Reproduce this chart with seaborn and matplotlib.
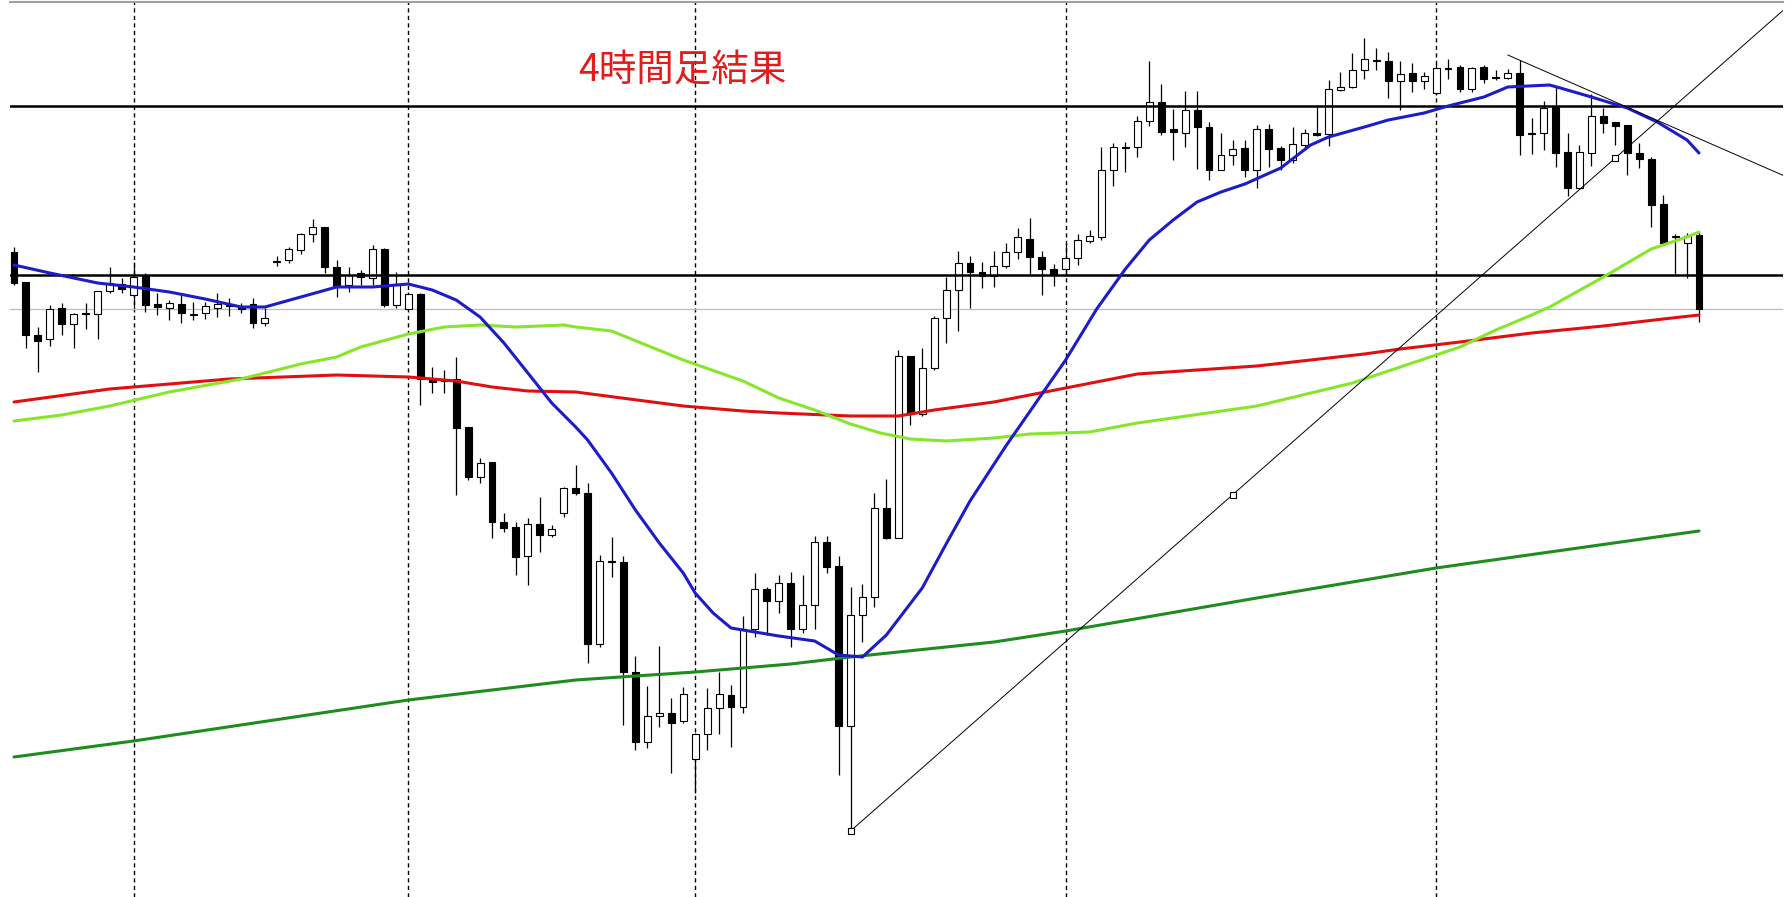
import numpy as np
import matplotlib
matplotlib.use("Agg")
import matplotlib.pyplot as plt
import seaborn as sns

# 4H candles, values (no price scale is shown, so values are
# measured downward from the top of the chart window: smaller = higher price)
candle_open = [252, 282, 335, 339, 308, 324, 313, 314, 291, 284,
               295, 276, 304, 308, 304, 314, 313, 308, 305, 308,
               304, 323, 261, 260, 250, 234, 227, 267, 285, 273,
               278, 249, 305, 309, 294, 379, 380, 379, 427, 477,
               462, 522, 527, 556, 524, 535, 513, 488, 493, 644,
               561, 562, 672, 742, 716, 713, 721, 759, 734, 708,
               695, 707, 629, 589, 601, 583, 629, 605, 542, 566,
               726, 615, 597, 508, 538, 356, 414, 368, 318, 290,
               263, 272, 276, 266, 252, 239, 257, 269, 269, 258,
               241, 237, 170, 147, 147, 121, 102, 129, 133, 110,
               127, 170, 155, 148, 170, 129, 148, 160, 145, 133,
               134, 90, 87, 70, 60, 61, 81, 73, 81, 93,
               68, 67, 89, 67, 77, 78, 73, 133, 133, 107,
               152, 188, 153, 116, 122, 125, 153, 159, 204, 236,
               243, 235]
candle_close = [283, 335, 341, 309, 324, 314, 313, 291, 283, 289,
                277, 305, 307, 303, 313, 314, 306, 304, 305, 308,
                323, 318, 261, 249, 234, 227, 267, 286, 275, 277,
                249, 305, 285, 294, 379, 382, 380, 428, 477, 463,
                522, 528, 557, 524, 535, 529, 488, 493, 644, 561,
                561, 672, 742, 716, 713, 723, 694, 734, 708, 694,
                707, 629, 589, 601, 583, 629, 605, 542, 567, 726,
                615, 597, 508, 538, 356, 414, 368, 318, 290, 263,
                272, 276, 266, 252, 237, 257, 269, 275, 258, 240,
                236, 170, 147, 147, 121, 102, 132, 132, 110, 127,
                170, 155, 149, 170, 129, 149, 160, 144, 133, 135,
                89, 87, 70, 59, 60, 81, 74, 81, 76, 68,
                68, 89, 68, 79, 78, 73, 135, 134, 108, 153,
                188, 152, 116, 123, 126, 153, 159, 205, 243, 236,
                236, 309]
candle_high = [247, 282, 327, 305, 303, 313, 303, 291, 267, 278,
               262, 273, 293, 300, 295, 302, 302, 293, 298, 303,
               298, 308, 256, 247, 233, 219, 227, 260, 267, 270,
               245, 248, 272, 292, 293, 367, 370, 357, 427, 458,
               462, 513, 522, 518, 497, 525, 487, 465, 483, 555,
               537, 556, 656, 686, 646, 698, 687, 733, 688, 672,
               685, 616, 573, 587, 575, 572, 575, 536, 536, 556,
               587, 584, 493, 479, 350, 356, 348, 316, 277, 251,
               256, 262, 251, 243, 228, 218, 251, 264, 243, 234,
               230, 147, 143, 142, 116, 61, 84, 109, 91, 91,
               122, 133, 140, 140, 125, 124, 146, 127, 129, 107,
               80, 72, 53, 38, 48, 52, 61, 63, 72, 63,
               59, 65, 67, 65, 70, 69, 60, 118, 101, 87,
               133, 145, 94, 108, 122, 125, 143, 157, 195, 234,
               233, 232]
candle_low = [285, 348, 372, 346, 335, 348, 329, 339, 293, 293,
              308, 312, 315, 320, 323, 320, 319, 317, 316, 313,
              328, 326, 266, 263, 254, 242, 273, 297, 292, 285,
              285, 307, 308, 309, 405, 393, 393, 495, 480, 483,
              538, 532, 575, 585, 552, 537, 517, 495, 663, 647,
              577, 725, 750, 748, 727, 773, 723, 793, 750, 734,
              747, 713, 637, 635, 613, 647, 633, 629, 573, 775,
              831, 642, 607, 539, 538, 425, 416, 370, 343, 331,
              308, 288, 287, 268, 259, 275, 295, 286, 275, 265,
              243, 240, 186, 172, 157, 126, 135, 160, 147, 169,
              180, 170, 165, 177, 188, 167, 170, 163, 150, 136,
              146, 91, 88, 79, 70, 98, 110, 92, 89, 95,
              79, 92, 92, 83, 80, 79, 155, 154, 150, 167,
              196, 189, 166, 133, 145, 175, 168, 227, 243, 275,
              278, 322]

# moving averages, sampled at bar positions
ma_blue_x = [0, 3, 7, 10, 13, 16, 19, 21, 24, 27, 30, 33, 35, 37, 39, 41, 43, 45, 47, 48,
             50, 52, 54, 56, 57, 58.5, 60, 62, 64, 67, 69, 71, 73, 76, 78, 80, 83, 88, 90.6, 93,
             95, 97, 99, 101, 103, 106, 108.5, 110, 113, 115, 118, 120, 123, 125, 128.5, 129.4,
             132, 135, 137.5, 140, 141]
ma_blue_y = [265, 273, 283, 287, 292, 299, 307, 307, 297, 287, 287, 284, 290, 300, 317, 343, 373, 403, 427, 440,
             473, 510, 543, 573, 593, 613, 628, 632, 636, 641, 655, 657, 635, 588, 544, 501, 446, 360, 309, 269,
             240, 220, 202, 192, 184, 168, 145, 137, 127, 120, 113, 106, 97, 87, 85, 88,
             97, 108, 122, 140, 153]

ma_lime_x = [0, 4, 8, 13, 19, 24, 27, 29, 33, 36, 39, 42, 46, 47, 50, 56, 61, 64, 67, 70,
             72.5, 75, 78, 82, 85, 90, 94, 104, 112, 121, 124, 127, 128.5, 133, 137, 140, 141]
ma_lime_y = [421, 415, 406, 392, 379, 364, 357, 347, 334, 327, 325, 327, 325, 327, 331, 360, 381, 398, 410, 424,
             433, 439, 441, 438, 434, 432, 423, 406, 383, 347, 330, 315, 307, 277, 249, 237, 232]

ma_red_x = [0, 8, 18, 27, 33, 37, 40, 43, 47, 56, 61, 64, 70, 74, 77, 82, 85, 94, 104, 113,
            116, 121, 127, 133, 138, 141]
ma_red_y = [402, 389, 379, 375, 377, 381, 387, 391, 392, 406, 411, 413, 416, 416, 410, 402, 395, 374, 366, 354,
            349, 342, 333, 326, 319, 315]

ma_green_x = [0, 10, 33, 47, 57, 65, 70, 82, 88, 104, 119, 141]
ma_green_y = [757, 741, 700, 680, 672, 664, 657, 642, 631, 598, 568, 531]

# drawn objects
levels = [106, 275]
separators = [10, 33, 57, 88, 119]
up_trend = [(70, 831), (134, 158)]
down_trend = [(125, 55), (142.8, 148)]

sns.set_style("white")
plt.rcParams["font.family"] = ["Noto Sans CJK JP", "DejaVu Sans"]

fig = plt.figure(figsize=(17.92, 8.97), dpi=100)
ax = fig.add_axes([10 / 1792, 0, 1773 / 1792, 895 / 897])
x_left, x_right = -0.335, 148.03
ax.set_xlim(x_left, x_right)
ax.set_ylim(897, 2)

o = np.array(candle_open, dtype=float)
c = np.array(candle_close, dtype=float)
h = np.array(candle_high, dtype=float)
l = np.array(candle_low, dtype=float)
idx = np.arange(len(o))

# wicks then bodies
ax.vlines(idx, h, l, color="black", linewidth=0.9, zorder=2)
up = c <= o
top = np.minimum(o, c)
height = np.maximum(np.abs(c - o), 1.0)
ax.bar(idx, height, bottom=top, width=0.58,
       color=np.where(up, "white", "black"), edgecolor="black",
       linewidth=0.8, zorder=3)

# period separators
for s in separators:
    ax.axvline(s, color="black", linewidth=1.0, linestyle=(0, (3, 2.4)), zorder=1)

# levels and current price
for lv in levels:
    ax.axhline(lv, color="black", linewidth=1.8, zorder=4)
ax.axhline(c[-1], color="#bdbdbd", linewidth=0.9, zorder=1)

# moving averages
sns.lineplot(x=ma_green_x, y=ma_green_y, ax=ax, color="#1e8c1e", linewidth=2.2, zorder=5)
sns.lineplot(x=ma_red_x, y=ma_red_y, ax=ax, color="#e01010", linewidth=2.2, zorder=5)
sns.lineplot(x=ma_lime_x, y=ma_lime_y, ax=ax, color="#86e62a", linewidth=2.2, zorder=5)
sns.lineplot(x=ma_blue_x, y=ma_blue_y, ax=ax, color="#1c1cc8", linewidth=2.2, zorder=5)

# trend lines (rays to the right edge)
for (x0, y0), (x1, y1) in (up_trend, down_trend):
    k = (y1 - y0) / (x1 - x0)
    ax.plot([x0, x_right], [y0, y0 + k * (x_right - x0)], color="black", linewidth=0.7, zorder=6)
(ux0, uy0), (ux1, uy1) = up_trend
ax.plot([ux0, (ux0 + ux1) / 2, ux1], [uy0, (uy0 + uy1) / 2, uy1], linestyle="none",
        marker="s", markersize=4.5, markerfacecolor="white", markeredgecolor="black",
        markeredgewidth=0.8, zorder=7)

fig.text(578 / 1792, 1 - 71 / 897, "4時間足結果", color="#e31b1b", fontsize=27,
         ha="left", va="center")

ax.set_xticks([])
ax.set_yticks([])
ax.set_xlabel("")
ax.set_ylabel("")
for side in ("left", "right", "bottom"):
    ax.spines[side].set_visible(False)
ax.spines["top"].set_color("#a0a0a0")
ax.spines["top"].set_linewidth(1.5)

plt.savefig("out.png", dpi=100)
